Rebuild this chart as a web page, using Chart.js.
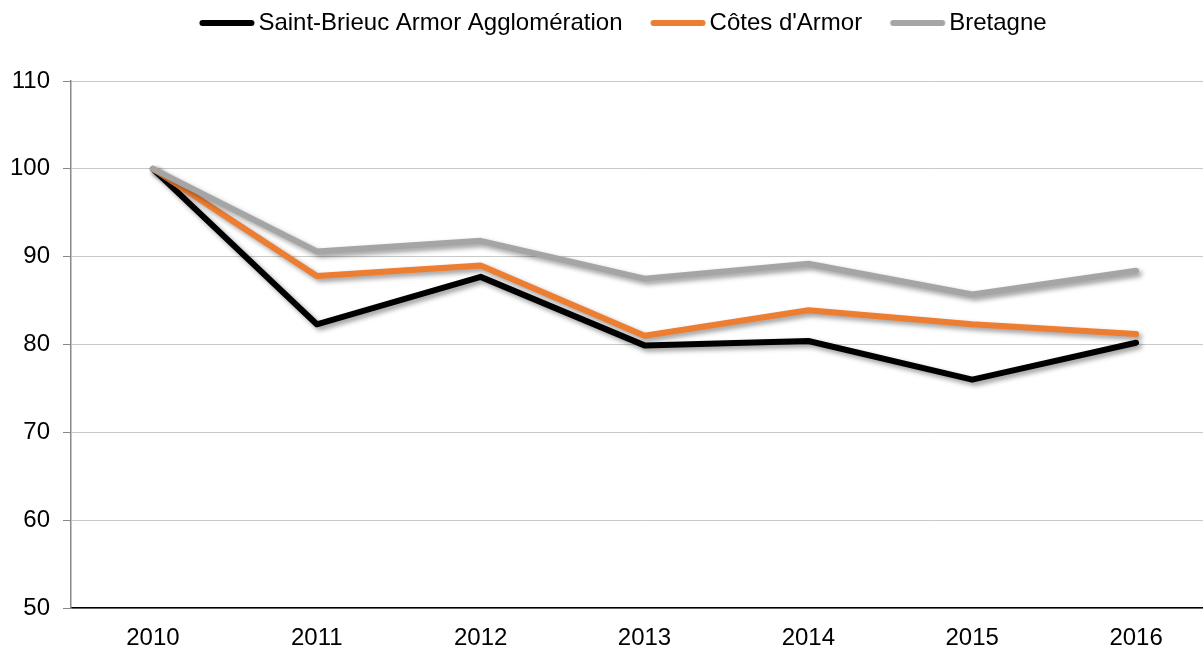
<!DOCTYPE html>
<html>
<head>
<meta charset="utf-8">
<script src="https://cdn.jsdelivr.net/npm/chart.js@4/dist/chart.umd.min.js"></script>
<style>
  html, body { margin: 0; padding: 0; background: #fff; overflow: hidden; }
  #wrap { position: relative; width: 1218px; height: 647px; }
</style>
</head>
<body>
<div id="wrap"><canvas id="c"></canvas></div>
<script>
const categories = ['2010', '2011', '2012', '2013', '2014', '2015', '2016'];
const seriesNames = ['Saint-Brieuc Armor Agglomération', "Côtes d'Armor", 'Bretagne'];
const saintBrieuc = [100, 82.3, 87.7, 79.9, 80.4, 76.0, 80.2];
const cotesArmor = [100, 87.8, 89.0, 81.0, 83.9, 82.3, 81.2];
const bretagne = [100, 90.6, 91.8, 87.5, 89.2, 85.7, 88.4];
const seriesColors = ['#000000', '#ED7D31', '#A5A5A5'];
const yMin = 50, yMax = 110, yStep = 10;

const FONT = "'Liberation Sans', Arial, sans-serif";

// legend swatch: a short thick rounded line, placed inside a wider image so the
// gap to the legend text matches the reference
function swatch(color) {
  const c = document.createElement('canvas');
  c.width = 100; c.height = 10;
  const g = c.getContext('2d');
  g.strokeStyle = color;
  g.lineWidth = 6;
  g.lineCap = 'round';
  g.beginPath();
  g.moveTo(43.5, 5);
  g.lineTo(92.5, 5);
  g.stroke();
  return c;
}

const shadowPlugin = {
  id: 'lineShadow',
  beforeDatasetDraw(chart) {
    const ctx = chart.ctx;
    ctx.save();
    ctx.shadowColor = 'rgba(0,0,0,0.40)';
    ctx.shadowBlur = 5;
    ctx.shadowOffsetX = 3;
    ctx.shadowOffsetY = 3;
  },
  afterDatasetDraw(chart) {
    chart.ctx.restore();
  }
};

function ds(label, data, color, order) {
  return {
    label, data,
    borderColor: color,
    backgroundColor: color,
    borderWidth: 6,
    borderCapStyle: 'round',
    borderJoinStyle: 'round',
    pointRadius: 0,
    pointHoverRadius: 0,
    pointStyle: swatch(color),
    tension: 0,
    fill: false,
    order
  };
}

new Chart(document.getElementById('c'), {
  type: 'line',
  data: {
    labels: categories,
    datasets: [
      ds(seriesNames[0], saintBrieuc, seriesColors[0], 3),
      ds(seriesNames[1], cotesArmor, seriesColors[1], 2),
      ds(seriesNames[2], bretagne, seriesColors[2], 1)
    ]
  },
  plugins: [shadowPlugin],
  options: {
    responsive: true,
    maintainAspectRatio: false,
    animation: false,
    events: [],
    layout: { padding: { top: 11, left: 0, right: 0, bottom: 0 } },
    plugins: {
      tooltip: { enabled: false },
      legend: {
        position: 'top',
        weight: 3000,
        labels: {
          usePointStyle: true,
          pointStyleWidth: 75,
          padding: 0,
          color: '#000',
          font: { family: FONT, size: 24 },
          sort: (a, b) => a.datasetIndex - b.datasetIndex
        }
      },
      title: {
        display: true,
        text: '',
        weight: 100,
        font: { size: 10 },
        padding: { top: 0, bottom: 24 }
      }
    },
    scales: {
      x: {
        offset: true,
        grid: { display: false, drawTicks: false },
        border: { display: true, color: '#000000', width: 1.5 },
        ticks: { color: '#000', font: { family: FONT, size: 24 }, padding: 16, maxRotation: 0 },
        afterFit(scale) { scale.height = 39; }
      },
      y: {
        min: yMin, max: yMax,
        grid: { color: '#C8C8C8', lineWidth: 1, tickLength: 8, tickColor: '#888888', drawTicks: true },
        border: { display: true, color: '#888888', width: 1.5 },
        ticks: { stepSize: yStep, color: '#000', font: { family: FONT, size: 24 }, padding: 13 },
        afterFit(scale) { scale.width = 71; }
      }
    }
  }
});
</script>
</body>
</html>
